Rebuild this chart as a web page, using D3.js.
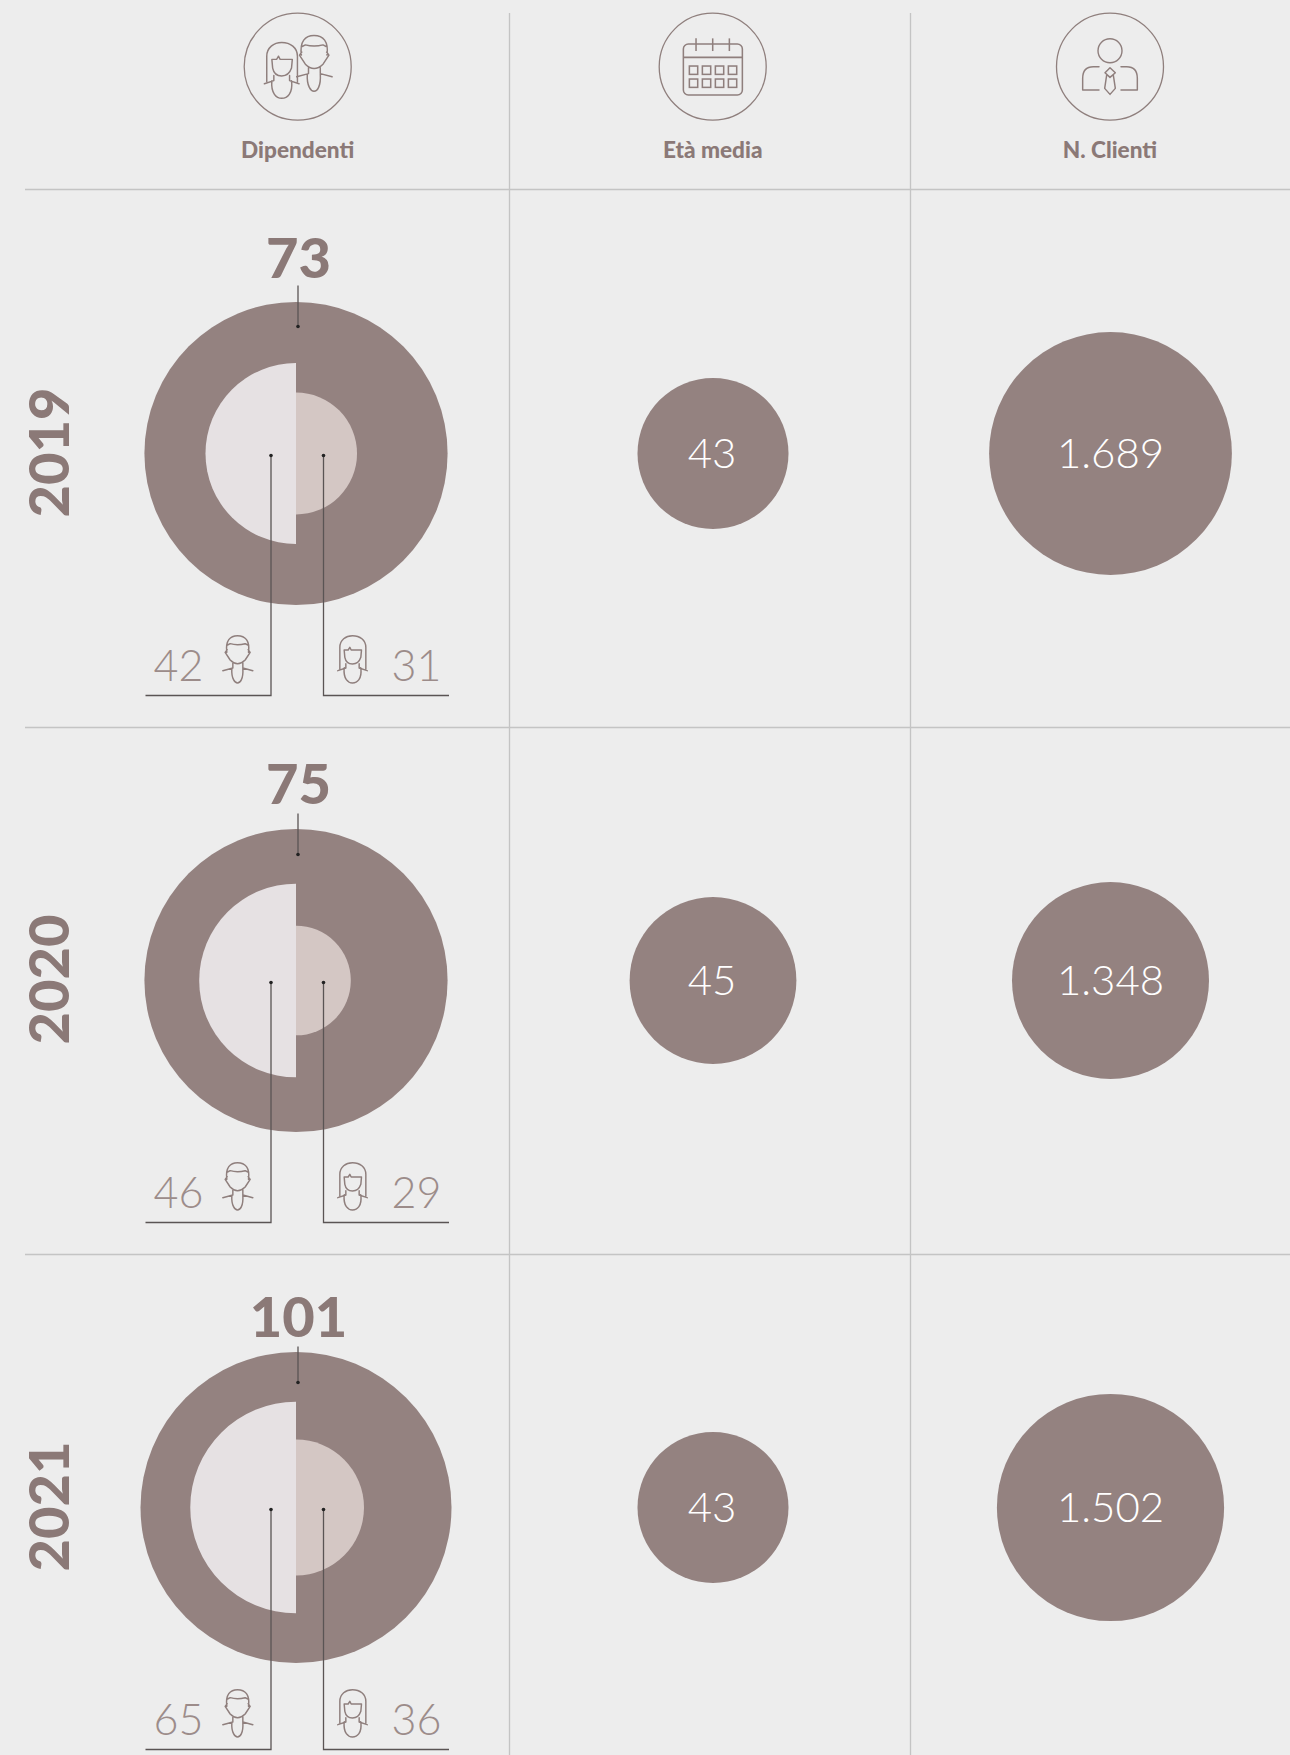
<!DOCTYPE html>
<html>
<head>
<meta charset="utf-8">
<script src="https://cdn.jsdelivr.net/npm/d3@7"></script>
<style>
  html, body { margin: 0; padding: 0; background: #ededed; }
  text { font-family: Lato, sans-serif; }
</style>
</head>
<body>
<div id="chart"></div>
<script>
// Data
const years = ['2019', '2020', '2021'];
const totals = [73, 75, 101];
const men = [42, 46, 65];
const women = [31, 29, 36];
const ages = [43, 45, 43];
const clients = [1689, 1348, 1502];
const headers = ['Dipendenti', 'Età media', 'N. Clienti'];

const colors = {
  bg: '#ededed', circle: '#948280', title: '#8b7977', light: '#e6e1e3', mid: '#d4c7c4',
  grid: '#c4c4c4', thin: '#9c8c8a', leader: '#5a5454', icon: '#8f7f7d'
};

const width = 1290, height = 1755;

const svg = d3.select('#chart').append('svg')
  .attr('width', width)
  .attr('height', height)
  .style('display', 'block')
  .style('background', colors.bg);

// Scales: the published circles are not strictly proportional, so radii are piecewise
const rowY = d3.scalePoint().domain(years).range([453.5, 1507.5]);
const colX = d3.scaleOrdinal().domain(headers).range([296, 713, 1110.5]);
const rTotal = d3.scaleLinear().domain([73, 75, 101]).range([151.6, 151.6, 155.5]);
const rMen = d3.scaleLinear().domain([42, 46, 65]).range([90.5, 96.8, 105.7]);
const rWomen = d3.scaleLinear().domain([29, 31, 36]).range([54.8, 61, 68]);
const rAge = d3.scaleLinear().domain([43, 45]).range([75.5, 83.4]);
const rClients = d3.scaleLinear().domain([1348, 1502, 1689]).range([98.5, 113.6, 121.4]);

const clientFormat = d3.formatLocale({ decimal: ',', thousands: '.', grouping: [3], currency: ['', ''] }).format(',d');

// Grid
const gridH = [189.5, 727.5, 1254.5];
const gridV = [509, 910];
svg.append('g').selectAll('line').data(gridH).join('line')
  .attr('x1', 25).attr('x2', width).attr('y1', d => d).attr('y2', d => d)
  .attr('stroke', colors.grid).attr('stroke-width', 1.3);
svg.append('g').selectAll('line').data(gridV).join('line')
  .attr('x1', d => d + 0.5).attr('x2', d => d + 0.5).attr('y1', 13).attr('y2', height)
  .attr('stroke', colors.grid).attr('stroke-width', 1.3);

// Icon outlines, drawn at 3x and scaled down
const manPath = 'M-32,-20 C-37,-55 -22,-70 0,-70 C23,-70 38,-55 33,-20 M-30,-42 L-22,-46 Q0,-40 23,-46 L31,-42 M-37,-20 L-31,-28 M38,-20 L32,-28 M-37,-20 L-22,3 Q0,25 23,3 L38,-20 M-44,35 L-14,27 L-14,12 M46,35 L16,27 L16,12 M-17,28 C-19,60 -7,72 0,72 C8,72 18,60 16,28';
const womanPath = 'M-38,30 L-38,-35 C-38,-57 -20,-70 0,-70 C22,-70 40,-57 40,-35 L40,30 M-44,35 L-20,27 L-20,14 M44,35 L20,27 L20,14 M-25,-27 L-13,-27 L-8,-35 L-4,-27 L27,-27 L25,-5 C20,10 10,15 0,15 C-10,15 -20,10 -23,-5 Z M-25,27 C-28,60 -13,72 0,72 C14,72 29,60 25,27';
const clientPath = 'M-33,0 L-50,0 Q-82,0 -82,35 L-82,70 L-33,70 M33,0 L50,0 Q82,0 82,35 L82,70 L33,70 M0,3 L16,18 L0,32 L-15,18 Z M-10,25 L-16,65 L0,83 L16,65 L10,25';

function drawIcon(parent, path, x, y, k) {
  return parent.append('path')
    .attr('d', path)
    .attr('transform', `translate(${x},${y}) scale(${k / 3})`)
    .attr('fill', 'none')
    .attr('stroke', colors.icon)
    .attr('stroke-width', 4.4 / k)
    .attr('stroke-linejoin', 'round')
    .attr('stroke-linecap', 'round');
}

// Header row
const headX = d3.scaleOrdinal().domain(headers).range([297.7, 712.7, 1110]);
const head = svg.append('g');
headers.forEach(h => {
  head.append('circle')
    .attr('cx', headX(h)).attr('cy', 66.7).attr('r', 53.5)
    .attr('fill', 'none').attr('stroke', colors.icon).attr('stroke-width', 1.3);
  head.append('text')
    .attr('x', headX(h)).attr('y', 158)
    .attr('text-anchor', 'middle')
    .attr('font-size', 22.6).attr('font-weight', 900)
    .attr('fill', colors.title)
    .text(h);
});
drawIcon(head, womanPath, 281.7, 70, 1.18);
drawIcon(head, manPath, 314, 63, 1.18);

// Calendar icon
const cal = head.append('g')
  .attr('transform', `translate(${headX('Età media')},66.7) scale(${1 / 3})`)
  .attr('fill', 'none').attr('stroke', colors.icon).attr('stroke-width', 4.6);
cal.append('rect').attr('x', -88).attr('y', -68).attr('width', 177).attr('height', 153).attr('rx', 15);
cal.append('line').attr('x1', -88).attr('x2', 89).attr('y1', -28).attr('y2', -28);
[-50, 0, 50].forEach(x => cal.append('line').attr('x1', x).attr('x2', x).attr('y1', -85).attr('y2', -47));
[-70, -31, 8, 47].forEach(x => [-2, 37].forEach(y =>
  cal.append('rect').attr('x', x).attr('y', y).attr('width', 25).attr('height', 25)));

// Client icon
head.append('circle')
  .attr('cx', headX('N. Clienti')).attr('cy', 50.7).attr('r', 12)
  .attr('fill', 'none').attr('stroke', colors.icon).attr('stroke-width', 1.4);
drawIcon(head, clientPath, headX('N. Clienti'), 66.7, 1);

// Rows
const halfArc = d3.arc().innerRadius(0);
const labelOffset = [-176, -177, -171];
const stemTop = [-168, -167, -161];
const stemEnd = [-127, -126, -125];
const footerY = 242;
const menX = 271, womenX = 323.5, lineLeft = 145.5, lineRight = 449;

years.forEach((year, i) => {
  const cy = rowY(year);
  const g = svg.append('g').attr('transform', `translate(0,${cy})`);
  const cx = colX('Dipendenti');

  g.append('text')
    .attr('transform', 'translate(69,-1) rotate(-90)')
    .attr('text-anchor', 'middle')
    .attr('font-size', 56).attr('font-weight', 900)
    .attr('fill', colors.title)
    .text(year);

  g.append('circle').attr('cx', cx).attr('r', rTotal(totals[i])).attr('fill', colors.circle);
  g.append('path')
    .attr('d', halfArc({ outerRadius: rMen(men[i]), startAngle: -Math.PI, endAngle: 0 }))
    .attr('transform', `translate(${cx},0)`)
    .attr('fill', colors.light);
  g.append('path')
    .attr('d', halfArc({ outerRadius: rWomen(women[i]), startAngle: 0, endAngle: Math.PI }))
    .attr('transform', `translate(${cx},0)`)
    .attr('fill', colors.mid);

  // Total with its leader
  g.append('text')
    .attr('x', 298.5).attr('y', labelOffset[i])
    .attr('text-anchor', 'middle')
    .attr('font-size', 56).attr('font-weight', 900)
    .attr('fill', colors.title)
    .text(totals[i]);
  g.append('line').attr('x1', 298).attr('x2', 298).attr('y1', stemTop[i]).attr('y2', stemEnd[i])
    .attr('stroke', colors.leader).attr('stroke-width', 1.3);
  g.append('circle').attr('cx', 298).attr('cy', stemEnd[i]).attr('r', 1.8).attr('fill', '#222');

  // Men / women leaders
  g.append('path')
    .attr('d', `M${menX},2V${footerY}H${lineLeft}`)
    .attr('fill', 'none').attr('stroke', colors.leader).attr('stroke-width', 1.3);
  g.append('path')
    .attr('d', `M${womenX},2V${footerY}H${lineRight}`)
    .attr('fill', 'none').attr('stroke', colors.leader).attr('stroke-width', 1.3);
  g.append('circle').attr('cx', menX).attr('cy', 2).attr('r', 1.8).attr('fill', '#222');
  g.append('circle').attr('cx', womenX).attr('cy', 2).attr('r', 1.8).attr('fill', '#222');

  g.append('text')
    .attr('x', 178.5).attr('y', 227.5)
    .attr('text-anchor', 'middle')
    .attr('font-size', 43).attr('font-weight', 300)
    .attr('fill', colors.thin)
    .text(men[i]);
  g.append('text')
    .attr('x', 416.5).attr('y', 227.5)
    .attr('text-anchor', 'middle')
    .attr('font-size', 43).attr('font-weight', 300)
    .attr('fill', colors.thin)
    .text(women[i]);
  drawIcon(g, manPath, 237.5, 205.5, 1);
  drawIcon(g, womanPath, 352.5, 205.5, 1);

  // Age and clients
  const ax = colX('Età media'), clx = colX('N. Clienti');
  g.append('circle').attr('cx', ax).attr('r', rAge(ages[i])).attr('fill', colors.circle);
  g.append('text')
    .attr('x', ax - 1).attr('y', 14.5)
    .attr('text-anchor', 'middle')
    .attr('font-size', 42).attr('font-weight', 300)
    .attr('fill', '#ffffff')
    .text(ages[i]);
  g.append('circle').attr('cx', clx).attr('r', rClients(clients[i])).attr('fill', colors.circle);
  g.append('text')
    .attr('x', clx).attr('y', 14.5)
    .attr('text-anchor', 'middle')
    .attr('font-size', 42).attr('font-weight', 300)
    .attr('fill', '#ffffff')
    .text(clientFormat(clients[i]));
});
</script>
</body>
</html>
